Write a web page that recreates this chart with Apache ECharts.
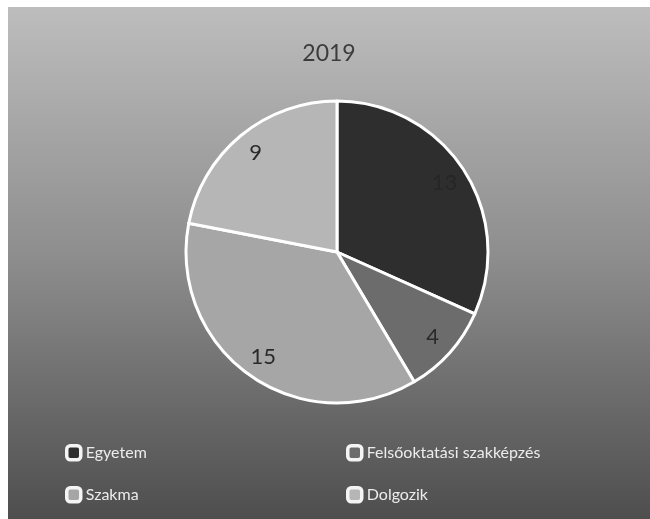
<!DOCTYPE html>
<html>
<head>
<meta charset="utf-8">
<script src="https://cdn.jsdelivr.net/npm/echarts@6/dist/echarts.min.js"></script>
<style>
html,body{margin:0;padding:0;background:#ffffff;}
#chart{position:absolute;left:8px;top:7px;width:642px;height:512px;}
</style>
</head>
<body>
<div id="chart"></div>
<script>
const title = '2019';
const categories = ['Egyetem', 'Felsőoktatási szakképzés', 'Szakma', 'Dolgozik'];
const values = [13, 4, 15, 9];
const colors = ['#2e2e2e', '#6c6c6c', '#a6a6a6', '#b6b6b6'];
const labelColors = ['#262626', '#2a2a2a', '#2a2a2a', '#2a2a2a'];

const data = categories.map((c, i) => ({name: c, value: values[i], itemStyle: {color: colors[i]}}));
const labelData = categories.map((c, i) => ({name: c, value: values[i], label: {color: labelColors[i]}}));

const chart = echarts.init(document.getElementById('chart'));
const fontFam = 'Lato, "Open Sans", sans-serif';
function legendAt(name, left, top) {
  return {
    data: [name], left: left, top: top, orient: 'horizontal',
    itemWidth: 14, itemHeight: 14, itemGap: 5,
    icon: 'roundRect',
    itemStyle: {borderColor: '#f4f4f4', borderWidth: 3.5},
    textStyle: {color: '#ececec', fontSize: 16, fontFamily: fontFam}
  };
}
chart.setOption({
  backgroundColor: {
    type: 'linear', x: 0, y: 0, x2: 0, y2: 1,
    colorStops: [
      {offset: 0, color: '#bdbdbd'},
      {offset: 0.5, color: '#8c8c8c'},
      {offset: 1, color: '#4e4e4e'}
    ]
  },
  title: {
    text: title, left: 'center', top: 30,
    textStyle: {color: '#3c3c3c', fontSize: 23, fontWeight: 'normal', fontFamily: fontFam}
  },
  legend: [
    legendAt(categories[0], 52, 432),
    legendAt(categories[1], 333, 432),
    legendAt(categories[2], 52, 474),
    legendAt(categories[3], 333, 474)
  ],
  series: [
    {
      type: 'pie', center: [329, 245], radius: [0, 151], startAngle: 90, clockwise: true,
      data: data, label: {show: false}, labelLine: {show: false},
      itemStyle: {borderColor: '#ffffff', borderWidth: 3},
      emphasis: {disabled: true}, animation: false
    },
    {
      type: 'pie', center: [329, 245], radius: [100, 150], startAngle: 90, clockwise: true,
      data: labelData, silent: true, animation: false,
      itemStyle: {color: 'rgba(0,0,0,0)', borderWidth: 0},
      label: {show: true, position: 'inside', formatter: '{c}', fontSize: 22, fontFamily: fontFam},
      labelLine: {show: false}, legendHoverLink: false, emphasis: {disabled: true}
    }
  ]
});
</script>
</body>
</html>
